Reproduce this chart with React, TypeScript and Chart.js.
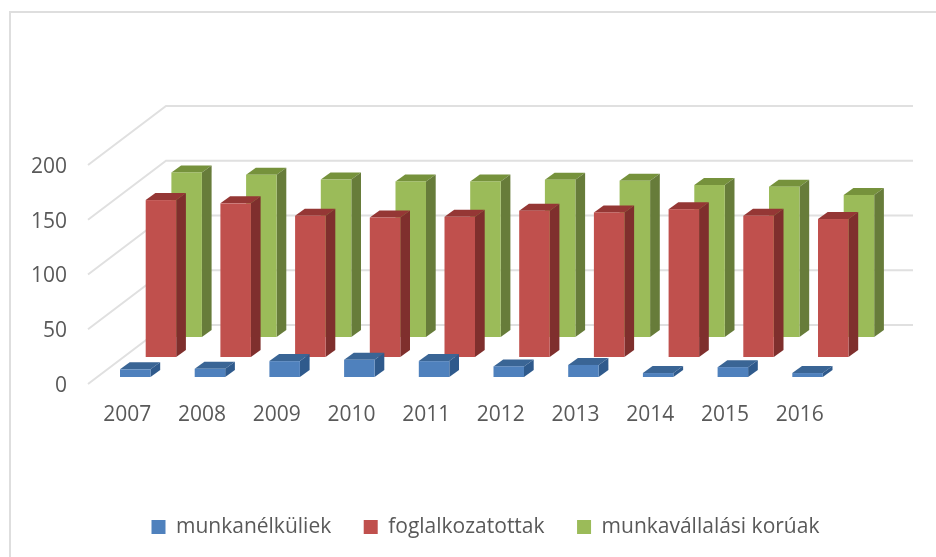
import { useEffect, useRef } from "react";
import { Chart, registerables } from "chart.js";

Chart.register(...registerables);

const categories = ["2007", "2008", "2009", "2010", "2011", "2012", "2013", "2014", "2015", "2016"];
const seriesNames = ["munkanélküliek", "foglalkozatottak", "munkavállalási korúak"];
const unemployed = [7, 7.5, 14.5, 15.8, 14.5, 9.7, 11, 3.6, 9, 3.6];
const employed = [143.3, 140.3, 129, 127.4, 128, 133.6, 132, 135, 129, 126];
const workingAge = [150.3, 148.2, 143.8, 142.1, 142.1, 143.7, 142.8, 138.8, 137.3, 129.7];
const frontColors = ["#4F81BD", "#C0504D", "#9BBB59"];
const sideColors = ["#2F5A8C", "#7F2F2D", "#677C3A"];
const topColors = ["#3A6595", "#953735", "#76923C"];
const FONT = "'Open Sans'";

const seriesShiftY = [-6, -26, -46];
const seriesShiftX = 33.6;
const barDepthX = 9.7;
const barDepthY = 7;
const wallDepthX = 76;
const wallDepthY = 58;

const scene = {
  id: "scene",
  beforeDraw(chart: any) {
    const { ctx } = chart;
    ctx.save();
    ctx.strokeStyle = "#DEDEDE";
    ctx.lineWidth = 2;
    ctx.beginPath();
    ctx.moveTo(10, 557);
    ctx.lineTo(10, 12);
    ctx.lineTo(936, 12);
    ctx.stroke();
    ctx.restore();
  },
  beforeDatasetsDraw(chart: any) {
    const { ctx, chartArea, scales } = chart;
    const yScale = scales.y;
    ctx.save();
    ctx.strokeStyle = "#E0E0E0";
    ctx.lineWidth = 2;
    yScale.ticks.forEach((t: any) => {
      const y = yScale.getPixelForValue(t.value);
      ctx.beginPath();
      ctx.moveTo(chartArea.left - 2, y + 1);
      ctx.lineTo(chartArea.left + wallDepthX, y - wallDepthY);
      ctx.lineTo(913, y - wallDepthY);
      ctx.stroke();
    });
    ctx.restore();
  },
  beforeDatasetDraw(chart: any, args: any) {
    const { ctx } = chart;
    const i = args.index;
    const dy = seriesShiftY[i];
    ctx.save();
    args.meta.data.forEach((bar: any) => {
      const left = bar.x - bar.width / 2 + seriesShiftX;
      const right = left + bar.width;
      const top = bar.y + dy;
      const base = bar.base + dy;
      ctx.fillStyle = topColors[i];
      ctx.beginPath();
      ctx.moveTo(left, top);
      ctx.lineTo(left + barDepthX, top - barDepthY);
      ctx.lineTo(right + barDepthX, top - barDepthY);
      ctx.lineTo(right, top);
      ctx.closePath();
      ctx.fill();
      ctx.fillStyle = sideColors[i];
      ctx.beginPath();
      ctx.moveTo(right, top);
      ctx.lineTo(right + barDepthX, top - barDepthY);
      ctx.lineTo(right + barDepthX, base - barDepthY);
      ctx.lineTo(right, base);
      ctx.closePath();
      ctx.fill();
      ctx.fillStyle = frontColors[i];
      ctx.fillRect(left, top, bar.width, base - top);
    });
    ctx.restore();
    return false;
  },
  afterLayout(chart: any) {
    chart.legend.left = 119;
    chart.legend.right = 936;
    chart.legend.top = 484;
  },
};

export default function App() {
  const ref = useRef<HTMLCanvasElement>(null);
  useEffect(() => {
    const chart = new Chart(ref.current as HTMLCanvasElement, {
      type: "bar",
      data: {
        labels: categories,
        datasets: [unemployed, employed, workingAge].map((data, i) => ({
          label: seriesNames[i],
          data,
          backgroundColor: frontColors[i],
          borderWidth: 0,
          categoryPercentage: 1.032,
          barPercentage: 1.187,
        })),
      },
      options: {
        responsive: false,
        animation: false,
        layout: { padding: { left: 0, right: 99, top: 164, bottom: 0 } },
        scales: {
          x: {
            grid: { display: false },
            border: { display: false },
            ticks: { color: "#595959", font: { family: FONT, size: 21 }, maxRotation: 0, autoSkip: false, padding: 11 },
            afterFit(scale: any) {
              scale.height = 174 - (scale.chart.legend?.height || 0);
            },
          },
          y: {
            min: 0,
            max: 200,
            grid: { display: false },
            border: { display: false },
            ticks: { stepSize: 50, color: "#595959", font: { family: FONT, size: 21 }, padding: 15, labelOffset: 3 },
            afterFit(scale: any) {
              scale.width = 90;
            },
          },
        },
        plugins: {
          tooltip: { enabled: false },
          legend: {
            display: true,
            position: "bottom",
            align: "start",
            labels: {
              boxWidth: 14,
              boxHeight: 14,
              padding: 32.5,
              color: "#595959",
              font: { family: FONT, size: 21 },
            },
          },
        },
      } as any,
      plugins: [scene],
    });
    return () => chart.destroy();
  }, []);
  return (
    <canvas
      ref={ref}
      width={936}
      height={557}
      style={{ position: "absolute", left: 0, top: 0, width: 936, height: 557, display: "block", filter: "blur(0.5px)" }}
    />
  );
}
